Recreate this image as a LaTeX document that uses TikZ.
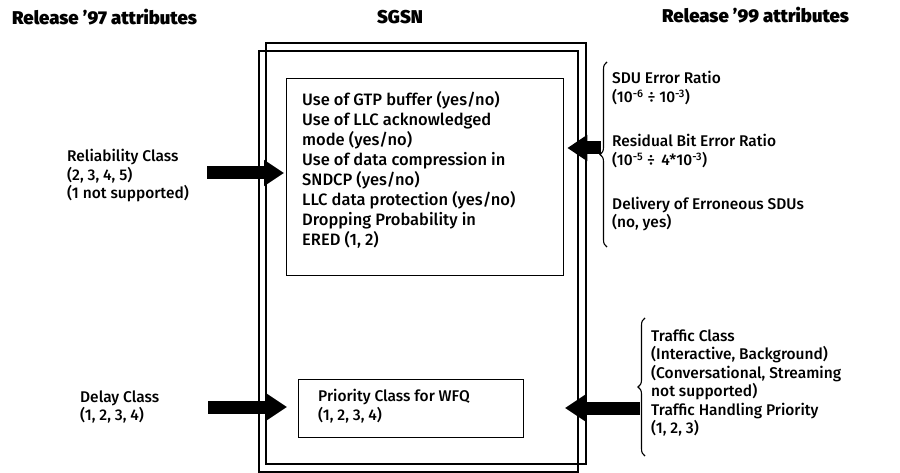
\documentclass[tikz,border=0pt]{standalone}
\usepackage{fontspec}
\setmainfont{Fira Sans}[UprightFont={* Medium}, BoldFont={* Black}]
\usetikzlibrary{arrows.meta,decorations.pathreplacing,calc}

\begin{document}
\begin{tikzpicture}[x=1pt,y=-1pt,
  heading/.style={font=\bfseries\fontsize{18.5}{21}\selectfont, inner sep=0pt},
  txt/.style={font=\fontsize{15.5}{18.5}\selectfont, align=left, anchor=west, inner sep=0pt},
  boxtxt/.style={txt, font=\fontsize{16.5}{20}\selectfont},
  frame/.style={draw, line width=1.3pt},
  attrbox/.style={draw, line width=1.3pt, anchor=north west, inner sep=0pt},
  fat/.style={line width=13pt, -{Triangle[length=20pt,width=25pt]}},
  brc/.style={draw, line width=1.1pt, decorate, decoration={brace, amplitude=7pt}}
]
\useasboundingbox (0,0) rectangle (900,473);

% column headings
\node[heading, anchor=west] (h97) at (12,17) {Release \char"27 97 attributes};
\node[heading] (hsgsn) at (400,17) {SGSN};
\node[heading, anchor=west] (h99) at (662,15) {Release \char"27 99 attributes};

% SGSN double frame
\draw[frame] (266,43) rectangle (586,464);
\draw[frame] (259,51) rectangle (578,472);

% mapped attributes inside the SGSN
\node[attrbox, minimum width=277pt, minimum height=197pt] (attr) at (286,78) {};
\node[boxtxt] (attrtxt) at (302,170) {Use of GTP buffer (yes/no)\\Use of LLC acknowledged\\mode (yes/no)\\Use of data compression in\\SNDCP (yes/no)\\LLC data protection (yes/no)\\Dropping Probability in\\ERED (1, 2)};

\node[attrbox, minimum width=225pt, minimum height=58pt] (prio) at (298,379) {};
\node[txt] (priotxt) at (318,406) {Priority Class for WFQ\\(1, 2, 3, 4)};

% Release '97 attributes
\node[txt] (rel) at (67,176) {Reliability Class\\(2, 3, 4, 5)\\(1 not supported)};
\node[txt] (delay) at (80,407) {Delay Class\\(1, 2, 3, 4)};

% Release '99 attributes
\node[txt] (sdu) at (612,88) {SDU Error Ratio\\(10\textsuperscript{-6} ÷ 10\textsuperscript{-3})};
\node[txt] (rber) at (612,151) {Residual Bit Error Ratio\\(10\textsuperscript{-5} ÷ \,4*10\textsuperscript{-3})};
\node[txt] (deliv) at (612,214) {Delivery of Erroneous SDUs\\(no, yes)};
\node[txt] (traffic) at (651,383) {Traffic Class\\(Interactive, Background)\\(Conversational, Streaming\\not supported)\\Traffic Handling Priority\\(1, 2, 3)};

% braces grouping the Release '99 attributes
\coordinate (b1top) at (607,62);
\coordinate (b1bot) at (607,247);
\draw[brc] (b1bot) -- (b1top);
\coordinate (b2top) at (645,318);
\coordinate (b2bot) at (645,456);
\draw[brc] (b2bot) -- (b2top);

% mapping arrows
\coordinate (relS) at (207,173);
\draw[fat] (relS) -- ($(relS -| attr.west)+(-2,0)$);
\coordinate (delS) at (208,407);
\draw[fat] (delS) -- ($(delS -| prio.west)+(-11,0)$);
\coordinate (r1S) at (601,148);
\draw[fat] (r1S) -- ($(r1S -| attr.east)+(3,0)$);
\coordinate (r2S) at (640,408);
\coordinate (r2T) at (565,408);
\draw[fat] (r2S) -- (r2T);
\end{tikzpicture}
\end{document}
